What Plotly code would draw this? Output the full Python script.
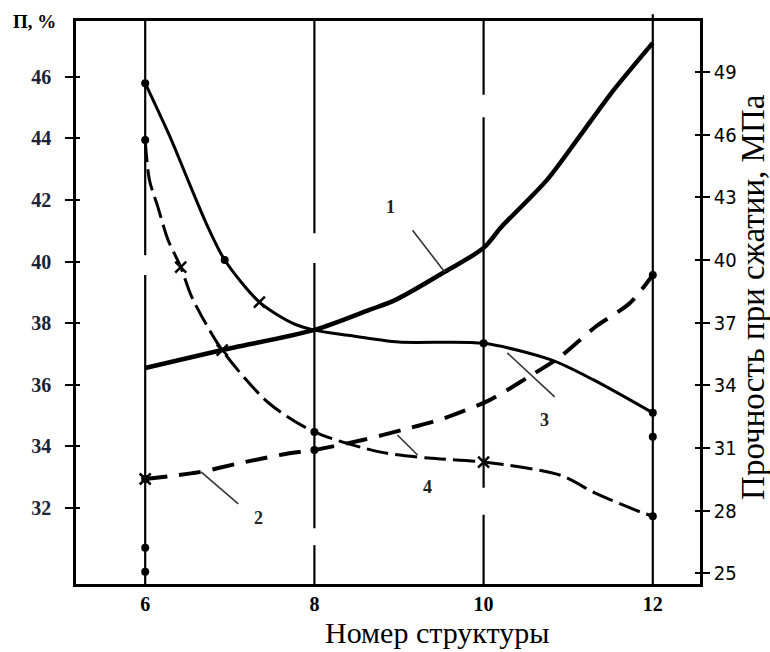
import plotly.graph_objects as go

# ---------------- data ----------------
structure_ticks = [6, 8, 10, 12]
porosity_ticks = [32, 34, 36, 38, 40, 42, 44, 46]          # left axis, П, %
strength_ticks = [25, 28, 31, 34, 37, 40, 43, 46, 49]      # right axis, МПа

# curve 1 (solid, rising) - compressive strength, MPa
c1_x = [6, 6.91, 8, 8.65, 8.96, 9.54, 10, 10.21, 10.75, 11.13, 11.51, 12]
c1_y = [34.83, 35.69, 36.65, 37.61, 38.09, 39.43, 40.58, 41.58, 43.84, 45.90, 48.00, 50.40]

# curve 2 (dashed, rising) - compressive strength, MPa
c2_x = [6, 6.64, 7.13, 7.66, 8, 8.57, 9.04, 9.54, 10.07, 10.53, 10.9, 11.32, 11.73, 12]
c2_y = [29.51, 29.84, 30.28, 30.71, 30.90, 31.38, 31.86, 32.43, 33.29, 34.40, 35.35, 36.79, 37.94, 39.28]

# curve 3 (solid, falling) - porosity, %
c3_x = [6, 6.31, 6.52, 6.72, 6.94, 7.35, 7.74, 8, 8.4, 9, 10, 10.8, 11.3, 12]
c3_y = [45.80, 43.95, 42.55, 41.25, 40.05, 38.68, 38.00, 37.77, 37.60, 37.38, 37.34, 36.80, 36.15, 35.08]

# curve 4 (dashed, falling) - porosity, %
c4_x = [6, 6.05, 6.15, 6.27, 6.42, 6.55, 6.91, 7.46, 8, 8.77, 9.35, 10, 10.9, 11.32, 11.86, 12]
c4_y = [43.95, 42.65, 41.77, 40.70, 39.82, 38.85, 37.12, 35.40, 34.46, 33.81, 33.61, 33.48, 33.06, 32.47, 31.85, 31.72]

# marked experimental points (porosity scale)
p_dot_x = [6, 6.94, 10, 12, 6, 8, 12, 6, 6, 12]
p_dot_y = [45.80, 40.05, 37.34, 35.08, 43.95, 34.46, 31.72, 30.69, 29.91, 34.30]
p_cross_x = [7.35, 6.42, 6.91, 10]
p_cross_y = [38.68, 39.82, 37.12, 33.48]

# marked experimental points (strength scale)
s_dot_x = [6, 8, 12]
s_dot_y = [29.51, 30.90, 39.28]
s_cross_x = [6]
s_cross_y = [29.51]

# curve labels
label_text = ["1", "2", "3", "4"]
label_x = [8.90, 7.34, 10.72, 9.34]
label_y = [41.78, 31.66, 34.85, 32.67]

# ---------------- figure ----------------
fig = go.Figure()

fig.add_trace(go.Scatter(x=c1_x, y=c1_y, mode="lines", yaxis="y2",
                         line=dict(color="black", width=4.5, shape="spline", smoothing=0.8)))
fig.add_trace(go.Scatter(x=c3_x, y=c3_y, mode="lines",
                         line=dict(color="black", width=3, shape="spline", smoothing=0.8)))
fig.add_trace(go.Scatter(x=c4_x, y=c4_y, mode="lines",
                         line=dict(color="black", width=3, shape="spline", smoothing=0.8,
                                   dash="22px,7px")))
fig.add_trace(go.Scatter(x=c2_x, y=c2_y, mode="lines", yaxis="y2",
                         line=dict(color="black", width=4, shape="spline", smoothing=0.8,
                                   dash="22px,12px")))
fig.add_trace(go.Scatter(x=p_dot_x, y=p_dot_y, mode="markers", yaxis="y3",
                         marker=dict(color="black", size=8, symbol="circle")))
fig.add_trace(go.Scatter(x=p_cross_x, y=p_cross_y, mode="markers", yaxis="y3",
                         marker=dict(color="black", size=11, symbol="x-thin",
                                     line=dict(color="black", width=2.5))))
fig.add_trace(go.Scatter(x=s_dot_x, y=s_dot_y, mode="markers", yaxis="y4",
                         marker=dict(color="black", size=8, symbol="circle")))
fig.add_trace(go.Scatter(x=s_cross_x, y=s_cross_y, mode="markers", yaxis="y4",
                         marker=dict(color="black", size=11, symbol="x-thin",
                                     line=dict(color="black", width=2.5))))

# vertical gridlines with gaps (paper y segments)
grid_segments = {
    6: [(0.0, 0.549), (0.584, 1.0)],
    8: [(0.0, 0.069), (0.099, 0.570), (0.623, 1.0)],
    10: [(0.0, 0.123), (0.171, 0.829), (0.869, 1.0)],
    12: [(0.0, 1.012)],
}
shapes = []
for gx, segs in grid_segments.items():
    for y0, y1 in segs:
        shapes.append(dict(type="line", xref="x", yref="paper", x0=gx, x1=gx, y0=y0, y1=y1,
                           line=dict(color="black", width=2.2), layer="below"))

# leader lines for labels
leaders = [
    (9.16, 41.02, 9.54, 39.66),
    (6.66, 33.16, 7.10, 32.12),
    (10.28, 37.03, 10.84, 35.60),
    (8.98, 34.36, 9.22, 33.71),
]
for x0, y0, x1, y1 in leaders:
    shapes.append(dict(type="line", xref="x", yref="y", x0=x0, y0=y0, x1=x1, y1=y1,
                       line=dict(color="#333", width=1.6)))

annotations = []
for t, lx, ly in zip(label_text, label_x, label_y):
    annotations.append(dict(x=lx, y=ly, xref="x", yref="y", text=t, showarrow=False,
                            font=dict(family="Liberation Serif", size=18, color="#222",
                                      weight="bold")))

annotations.append(dict(x=-0.066, y=1.0, xref="paper", yref="paper", text="П, %",
                        xanchor="center", yanchor="middle", showarrow=False,
                        font=dict(family="Liberation Serif", size=19, color="black", weight="bold")))
annotations.append(dict(x=0.579, y=-0.087, xref="paper", yref="paper", text="Номер структуры",
                        xanchor="center", yanchor="middle", showarrow=False,
                        font=dict(family="Liberation Serif", size=30, color="black")))
annotations.append(dict(x=1.085, y=0.51, xref="paper", yref="paper",
                        text="Прочность при сжатии, МПа", textangle=-90, showarrow=False,
                        xanchor="center", yanchor="middle",
                        font=dict(family="Liberation Serif", size=33, color="black")))

left_range = [29.515, 47.82]
right_range = [24.48, 51.45]

fig.update_layout(
    width=770, height=652,
    margin=dict(l=76, r=70, t=21, b=68),
    paper_bgcolor="white", plot_bgcolor="white",
    showlegend=False,
    shapes=shapes,
    annotations=annotations,
    xaxis=dict(range=[5.182, 12.558], tickvals=structure_ticks, showgrid=False, zeroline=False,
               showline=True, mirror=True, linecolor="black", linewidth=2.5, ticks="",
               tickfont=dict(family="Liberation Serif", size=20, color="black", weight="bold")),
    yaxis=dict(range=left_range, tickvals=porosity_ticks, showgrid=False, zeroline=False,
               showline=True, linecolor="black", linewidth=2.5,
               ticks="outside", ticklen=8, tickwidth=2, tickcolor="black",
               ticklabelstandoff=10,
               tickfont=dict(family="Liberation Serif", size=20, color="#1b2233", weight="bold")),
    yaxis2=dict(range=right_range, tickvals=strength_ticks, overlaying="y", side="right",
                showgrid=False, zeroline=False, showline=True, linecolor="black", linewidth=2.5,
                ticks="outside", ticklen=7, tickwidth=2, tickcolor="black",
                tickfont=dict(family="DejaVu Sans Condensed, Liberation Sans", size=20,
                              color="black")),
    yaxis3=dict(range=left_range, tickvals=porosity_ticks, overlaying="y", side="left",
                showgrid=False, zeroline=False, showline=False, showticklabels=False,
                ticks="inside", ticklen=4, tickwidth=2, tickcolor="black"),
    yaxis4=dict(range=right_range, tickvals=strength_ticks, overlaying="y", side="right",
                showgrid=False, zeroline=False, showline=False, showticklabels=False,
                ticks="inside", ticklen=5, tickwidth=2, tickcolor="black"),
)

fig.write_html("out.html")
